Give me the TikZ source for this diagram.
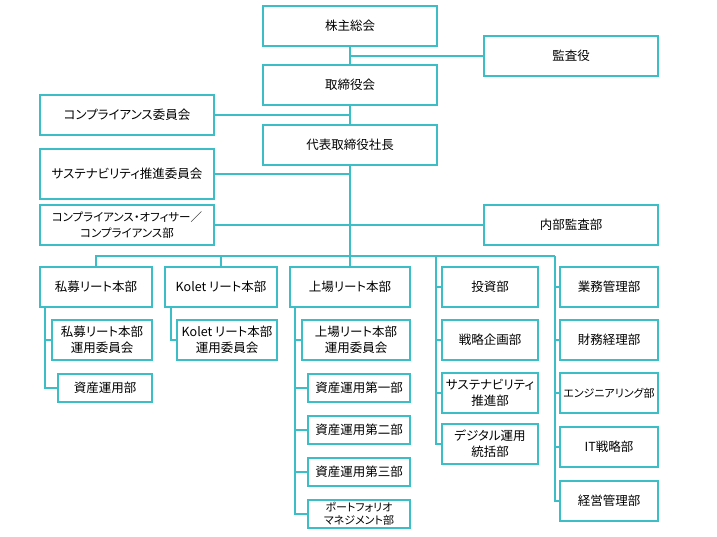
\documentclass[tikz,border=0pt]{standalone}
\usepackage{fontspec}
\setmainfont{Noto Sans CJK JP}[RawFeature={+palt}]
\definecolor{orgline}{RGB}{59,190,198}

\begin{document}
\begin{tikzpicture}[x=1pt,y=-1pt]
            \tikzset{unit/.style = {shape=rectangle,draw=orgline,line width=1.3pt,inner sep=0pt,align=center,
                font=\fontsize{12.5}{16}\selectfont}}
            \tikzset{link/.style = {-,draw=orgline,line width=1.3pt}}
            \useasboundingbox (0,0) rectangle (717,537);
            % top of the tree
            \node[unit, minimum width=174, minimum height=40] (soukai) at (350, 26) {株主総会};
            \node[unit, minimum width=174, minimum height=40] (kansa) at (571, 56) {監査役};
            \node[unit, minimum width=174, minimum height=40] (torishimari) at (350, 85) {取締役会};
            \node[unit, minimum width=174, minimum height=40] (compiin) at (127, 115) {コンプライアンス委員会};
            \node[unit, minimum width=174, minimum height=40] (shacho) at (350, 145) {代表取締役社長};
            \node[unit, minimum width=174, minimum height=50] (susiin) at (127, 174) {サステナビリティ推進委員会};
            \node[unit, minimum width=174, minimum height=40, font=\fontsize{11.5}{16}\selectfont] (compoff) at (127, 225) {コンプライアンス・オフィサー／\\コンプライアンス部};
            \node[unit, minimum width=174, minimum height=40] (naibu) at (571, 225) {内部監査部};
            % divisions
            \node[unit, minimum width=112, minimum height=40] (shibo) at (96, 287) {私募リート本部};
            \node[unit, minimum width=112, minimum height=40] (kolet) at (221, 287) {Kolet リート本部};
            \node[unit, minimum width=120, minimum height=40] (jojo) at (350, 287) {上場リート本部};
            \node[unit, minimum width=96, minimum height=40] (toshi) at (490, 287) {投資部};
            \node[unit, minimum width=98, minimum height=40] (gyomu) at (609, 287) {業務管理部};
            \node[unit, minimum width=100, minimum height=40] (shibocomm) at (102, 340) {私募リート本部\\運用委員会};
            \node[unit, minimum width=94, minimum height=28] (shisan) at (105, 388) {資産運用部};
            \node[unit, minimum width=100, minimum height=40] (koletcomm) at (227, 340) {Kolet リート本部\\運用委員会};
            \node[unit, minimum width=108, minimum height=40] (jojocomm) at (356, 340) {上場リート本部\\運用委員会};
            \node[unit, minimum width=102, minimum height=28] (dai1) at (359, 388) {資産運用第一部};
            \node[unit, minimum width=102, minimum height=28] (dai2) at (359, 430) {資産運用第二部};
            \node[unit, minimum width=102, minimum height=28] (dai3) at (359, 472) {資産運用第三部};
            \node[unit, minimum width=102, minimum height=28, font=\fontsize{11}{13.5}\selectfont] (pf) at (359, 514) {ポートフォリオ\\マネジメント部};
            \node[unit, minimum width=96, minimum height=40] (senryaku) at (490, 340) {戦略企画部};
            \node[unit, minimum width=96, minimum height=40] (sus) at (490, 393) {サステナビリティ\\推進部};
            \node[unit, minimum width=96, minimum height=40] (digital) at (490, 444) {デジタル運用\\統括部};
            \node[unit, minimum width=98, minimum height=40] (zaimu) at (609, 340) {財務経理部};
            \node[unit, minimum width=98, minimum height=40, font=\fontsize{11}{16}\selectfont] (eng) at (609, 393) {エンジニアリング部};
            \node[unit, minimum width=98, minimum height=40] (it) at (609, 447) {IT戦略部};
            \node[unit, minimum width=98, minimum height=40] (keiei) at (609, 501) {経営管理部};
            % branch points
            \coordinate (mbus) at (436, 256);
            \coordinate (rbus) at (555, 256);
            \coordinate (shiboL) at (45, 307);
            \coordinate (koletL) at (171, 307);
            \coordinate (jojoL) at (295, 307);
            \draw[link] (soukai) -- (torishimari);
            \draw[link] (torishimari) -- (shacho);
            \draw[link] (shacho) -- (jojo);
            \draw[link] (kansa.west) -- (kansa.west -| soukai.south);
            \draw[link] (compiin.east) -- (compiin.east -| shacho.north);
            \draw[link] (susiin.east) -- (susiin.east -| shacho.south);
            \draw[link] (compoff.east) -- (naibu.west);
            \draw[link] (shibo.north) |- (rbus);
            \draw[link] (kolet.north) -- (kolet.north |- rbus);
            \draw[link] (shiboL) |- (shisan.west);
            \draw[link] (shibocomm.west) -- (shibocomm.west -| shiboL);
            \draw[link] (koletL) |- (koletcomm.west);
            \draw[link] (jojoL) |- (pf.west);
            \draw[link] (jojocomm.west) -- (jojocomm.west -| jojoL);
            \draw[link] (dai1.west) -- (dai1.west -| jojoL);
            \draw[link] (dai2.west) -- (dai2.west -| jojoL);
            \draw[link] (dai3.west) -- (dai3.west -| jojoL);
            \draw[link] (mbus) |- (digital.west);
            \draw[link] (toshi.west) -- (toshi.west -| mbus);
            \draw[link] (senryaku.west) -- (senryaku.west -| mbus);
            \draw[link] (sus.west) -- (sus.west -| mbus);
            \draw[link] (rbus) |- (keiei.west);
            \draw[link] (gyomu.west) -- (gyomu.west -| rbus);
            \draw[link] (zaimu.west) -- (zaimu.west -| rbus);
            \draw[link] (eng.west) -- (eng.west -| rbus);
            \draw[link] (it.west) -- (it.west -| rbus);
          \end{tikzpicture}
\end{document}
